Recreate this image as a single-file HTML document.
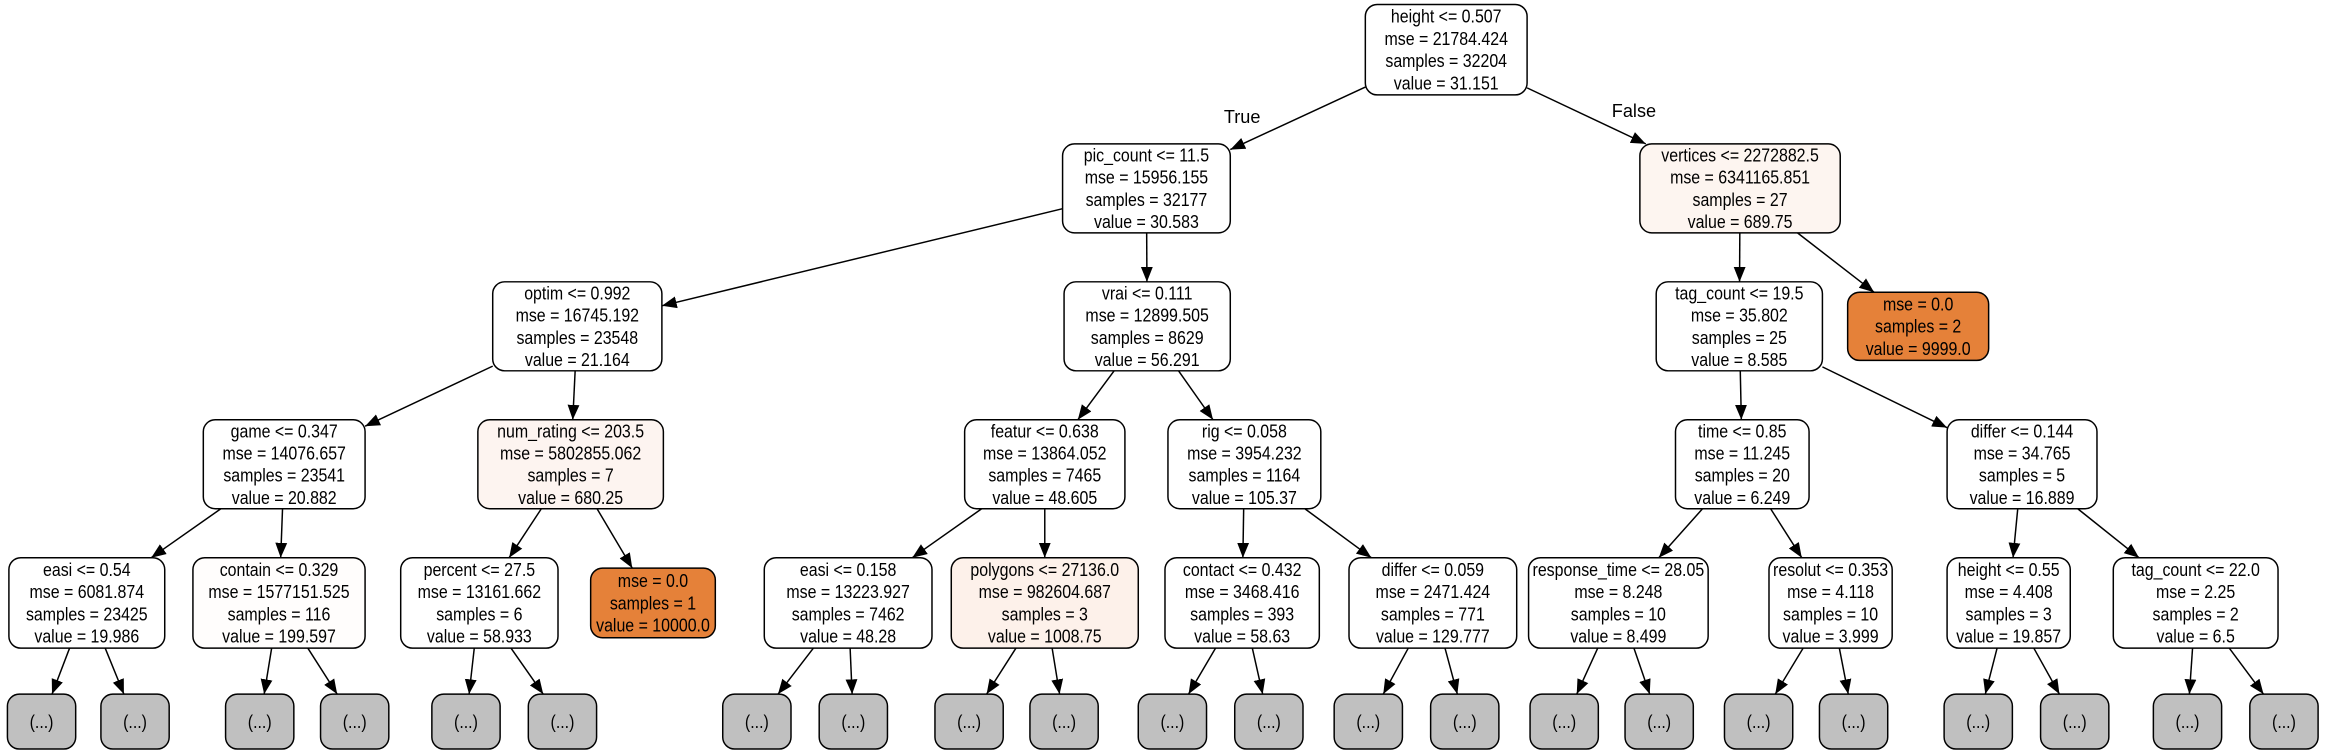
<!DOCTYPE html>
<html><head><meta charset="utf-8"><style>
html,body{margin:0;padding:0;background:#fff;width:2327px;height:752px;overflow:hidden}
svg{display:block}
text{font-family:"Liberation Sans",Arial,sans-serif;font-size:12.2px;fill:#000}
</style></head><body>
<svg id="s" width="2327" height="752" viewBox="0 0 1568 507" preserveAspectRatio="none" xmlns="http://www.w3.org/2000/svg">
<defs><marker id="a" viewBox="0 0 10 10" refX="10" refY="5" markerWidth="10" markerHeight="10" markerUnits="userSpaceOnUse" orient="auto"><path d="M0,1 L10,5 L0,9 z" fill="#000"/></marker></defs>
<g id="e"></g><g id="n"></g>
<text x="837" y="83" text-anchor="middle">True</text>
<text x="1101" y="79" text-anchor="middle">False</text>
</svg>
<script>
var W='#ffffff',O='#e58139',P='#fdf5f0',G='#c0c0c0';
var N={
r:[920,3,1029,64,W,["height <= 0.507","mse = 21784.424","samples = 32204","value = 31.151"]],
pc:[716,97,829,157,W,["pic_count <= 11.5","mse = 15956.155","samples = 32177","value = 30.583"]],
ve:[1105,97,1240,157,P,["vertices <= 2272882.5","mse = 6341165.851","samples = 27","value = 689.75"]],
op:[332,190,446,250,W,["optim <= 0.992","mse = 16745.192","samples = 23548","value = 21.164"]],
vr:[717,190,829,250,W,["vrai <= 0.111","mse = 12899.505","samples = 8629","value = 56.291"]],
tc:[1116,190,1228,250,W,["tag_count <= 19.5","mse = 35.802","samples = 25","value = 8.585"]],
l1:[1245,197,1340,243,O,["mse = 0.0","samples = 2","value = 9999.0"]],
ga:[137,283,246,343,W,["game <= 0.347","mse = 14076.657","samples = 23541","value = 20.882"]],
nr:[322,283,447,343,'#fdf4f0',["num_rating <= 203.5","mse = 5802855.062","samples = 7","value = 680.25"]],
fe:[650,283,758,343,W,["featur <= 0.638","mse = 13864.052","samples = 7465","value = 48.605"]],
ri:[787,283,890,343,W,["rig <= 0.058","mse = 3954.232","samples = 1164","value = 105.37"]],
ti:[1129,283,1219,343,W,["time <= 0.85","mse = 11.245","samples = 20","value = 6.249"]],
d1:[1312,283,1413,343,W,["differ <= 0.144","mse = 34.765","samples = 5","value = 16.889"]],
e1:[6,376,111,437,W,["easi <= 0.54","mse = 6081.874","samples = 23425","value = 19.986"]],
co:[130,376,246,437,'#fffdfc',["contain <= 0.329","mse = 1577151.525","samples = 116","value = 199.597"]],
pe:[270,376,376,437,W,["percent <= 27.5","mse = 13161.662","samples = 6","value = 58.933"]],
l2:[398,383,482,430,O,["mse = 0.0","samples = 1","value = 10000.0"]],
e2:[515,376,628,437,W,["easi <= 0.158","mse = 13223.927","samples = 7462","value = 48.28"]],
po:[641,376,767,437,'#fdf1ea',["polygons <= 27136.0","mse = 982604.687","samples = 3","value = 1008.75"]],
ct:[785,376,889,437,W,["contact <= 0.432","mse = 3468.416","samples = 393","value = 58.63"]],
d2:[909,376,1022,437,W,["differ <= 0.059","mse = 2471.424","samples = 771","value = 129.777"]],
rt:[1030,376,1151,437,W,["response_time <= 28.05","mse = 8.248","samples = 10","value = 8.499"]],
rs:[1192,376,1275,437,W,["resolut <= 0.353","mse = 4.118","samples = 10","value = 3.999"]],
h2:[1312,376,1395,437,W,["height <= 0.55","mse = 4.408","samples = 3","value = 19.857"]],
t2:[1424,376,1535,437,W,["tag_count <= 22.0","mse = 2.25","samples = 2","value = 6.5"]]
};
var E=[['r','pc'],['r','ve'],['pc','op'],['pc','vr'],['ve','tc'],['ve','l1'],['op','ga'],['op','nr'],['vr','fe'],['vr','ri'],['tc','ti'],['tc','d1'],
['ga','e1'],['ga','co'],['nr','pe'],['nr','l2'],['fe','e2'],['fe','po'],['ri','ct'],['ri','d2'],['ti','rt'],['ti','rs'],['d1','h2'],['d1','t2']];
var gc=[28,91,175,239,314,379,510,575,653,717,790,855,922,987,1054,1118,1185,1249,1333,1398,1474,1539];
var par=['e1','e1','co','co','pe','pe','e2','e2','po','po','ct','ct','d2','d2','rt','rt','rs','rs','h2','h2','t2','t2'];
gc.forEach(function(c,i){var k='g'+i;N[k]=[c-23,468,c+23,505,G,["(...)"]];E.push([par[i],k]);});
var ns='http://www.w3.org/2000/svg';
function el(t,a,p){var e=document.createElementNS(ns,t);for(var k in a)e.setAttribute(k,a[k]);p.appendChild(e);return e;}
var gn=document.getElementById('n'),ge=document.getElementById('e');
for(var k in N){var b=N[k];el('rect',{x:b[0],y:b[1],width:b[2]-b[0],height:b[3]-b[1],rx:8,ry:8,fill:b[4],stroke:'#000','stroke-width':1},gn);
var cx=(b[0]+b[2])/2,cy=(b[1]+b[3])/2,L=b[5],n=L.length;
L.forEach(function(s,i){var t=el('text',{x:cx,y:cy+(i-(n-1)/2)*15+4.3,'text-anchor':'middle',transform:'translate('+cx+',0) scale(0.88,1) translate('+(-cx)+',0)'},gn);t.textContent=s;});}
function clip(b,x0,y0,dx,dy){var hw=(b[2]-b[0])/2,hh=(b[3]-b[1])/2;var t=Math.min(dx?hw/Math.abs(dx):1e9,dy?hh/Math.abs(dy):1e9);return[x0+dx*t,y0+dy*t];}
E.forEach(function(p){var a=N[p[0]],b=N[p[1]];var ax=(a[0]+a[2])/2,ay=(a[1]+a[3])/2,bx=(b[0]+b[2])/2,by=(b[1]+b[3])/2;
var dx=bx-ax,dy=by-ay;var s=clip(a,ax,ay,dx,dy),e=clip(b,bx,by,-dx,-dy);
el('line',{x1:s[0],y1:s[1],x2:e[0],y2:e[1],stroke:'#000','stroke-width':1,'marker-end':'url(#a)'},ge);});
</script>
</body></html>
